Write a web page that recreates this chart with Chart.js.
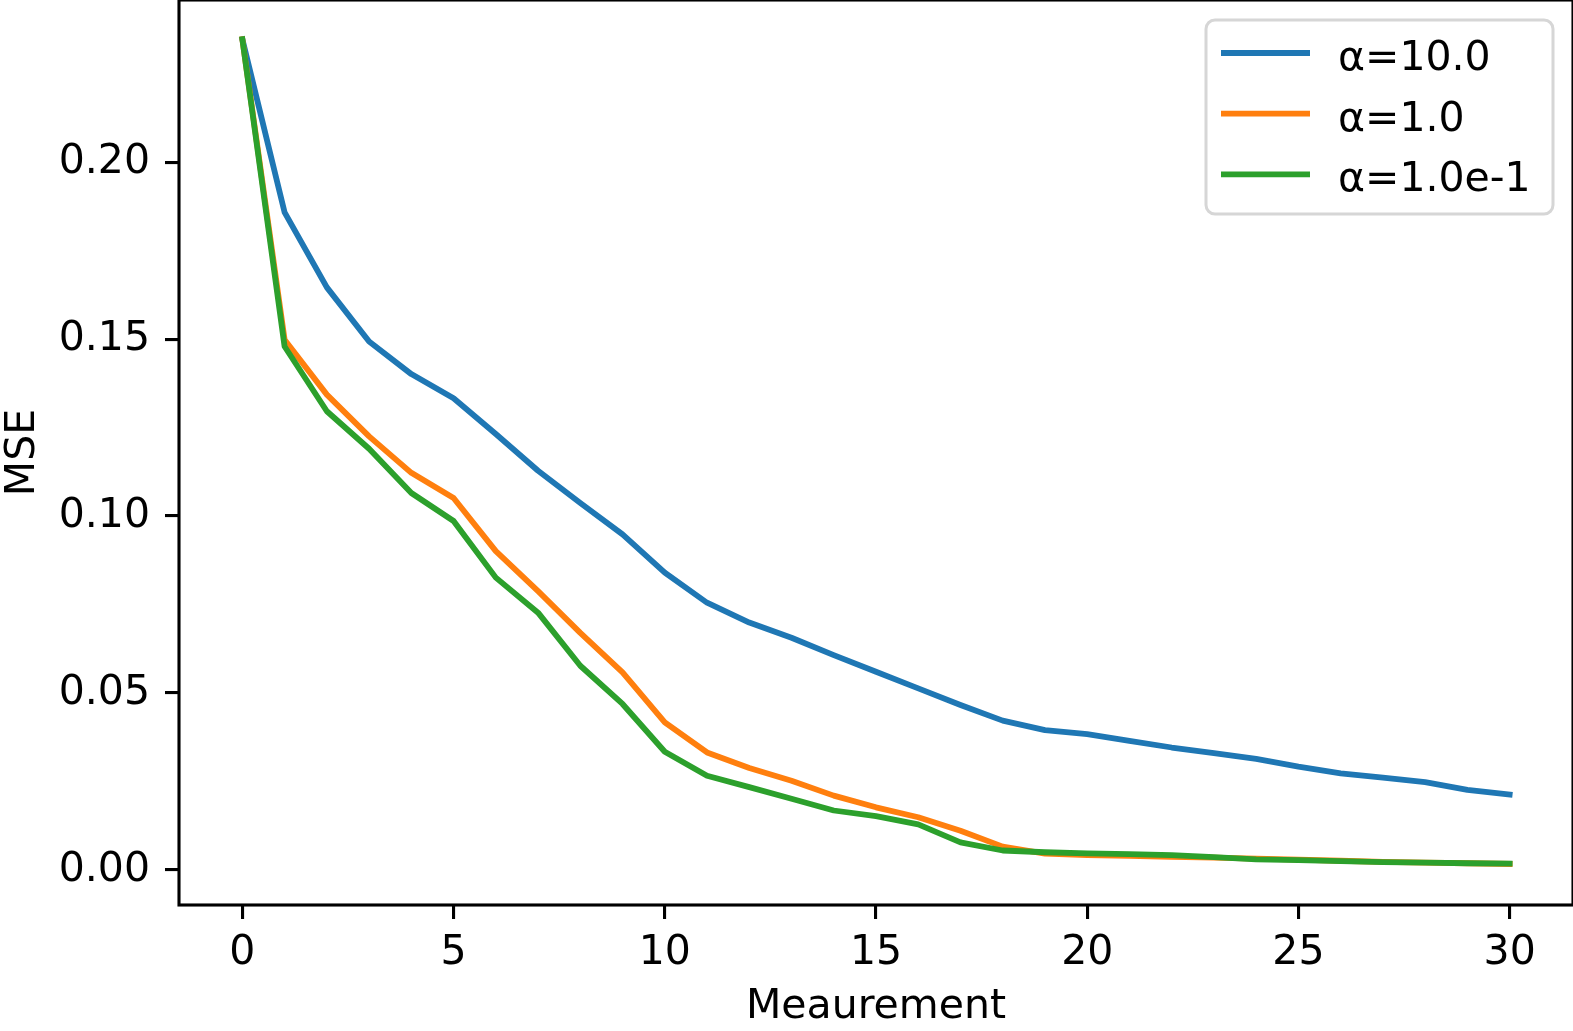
<!DOCTYPE html>
<html>
<head>
<meta charset="utf-8">
<title>MSE per measurement</title>
<script src="https://cdn.jsdelivr.net/npm/chart.js@4.4.1/dist/chart.umd.min.js"></script>
<style>
  html, body { margin: 0; padding: 0; background: #fff; }
  #wrap { width: 1573px; height: 1031px; }
  canvas { display: block; }
</style>
</head>
<body>
<div id="wrap"><canvas id="chart" width="1573" height="1031"></canvas></div>
<script>
/* ── Data ──────────────────────────────────────────────────────── */
const measurements = [0, 1, 2, 3, 4, 5, 6, 7, 8, 9, 10, 11, 12, 13, 14, 15,
                      16, 17, 18, 19, 20, 21, 22, 23, 24, 25, 26, 27, 28, 29, 30];

const mseAlpha10 = [0.2347, 0.1858, 0.1646, 0.1493, 0.1401, 0.1333, 0.1232, 0.1128,
                    0.1037, 0.0948, 0.0840, 0.0755, 0.0699, 0.0656, 0.0607, 0.0560,
                    0.0513, 0.0466, 0.0422, 0.0395, 0.0384, 0.0365, 0.0346, 0.0330,
                    0.0314, 0.0292, 0.0273, 0.0261, 0.0248, 0.0226, 0.0213];

const mseAlpha1 = [0.2347, 0.1498, 0.1343, 0.1225, 0.1122, 0.1051, 0.0901, 0.0788,
                   0.0670, 0.0558, 0.0417, 0.0332, 0.0288, 0.0252, 0.0210, 0.0177,
                   0.0149, 0.0111, 0.0066, 0.0046, 0.0042, 0.0040, 0.0037, 0.0035,
                   0.0032, 0.0029, 0.0026, 0.0023, 0.0021, 0.0019, 0.0017];

const mseAlpha01 = [0.2347, 0.1479, 0.1296, 0.1190, 0.1065, 0.0986, 0.0826, 0.0727,
                    0.0577, 0.0469, 0.0334, 0.0266, 0.0234, 0.0201, 0.0168, 0.0152,
                    0.0129, 0.0078, 0.0055, 0.0050, 0.0047, 0.0045, 0.0042, 0.0036,
                    0.0030, 0.0028, 0.0025, 0.0022, 0.0021, 0.0019, 0.0018];

const seriesLabels = ['α=10.0', 'α=1.0', 'α=1.0e-1'];
const seriesColors = ['#1f77b4', '#ff7f0e', '#2ca02c'];

const xTicks = [0, 5, 10, 15, 20, 25, 30];
const yTicks = [0.00, 0.05, 0.10, 0.15, 0.20];

const FONT = "'DejaVu Sans', sans-serif";
const FONT_SIZE = 41;

/* ── Helpers ───────────────────────────────────────────────────── */
function toPoints(ys) {
  return measurements.map((x, i) => ({ x: x, y: ys[i] }));
}

function lineDataset(i, ys) {
  return {
    label: seriesLabels[i],
    data: toPoints(ys),
    borderColor: seriesColors[i],
    backgroundColor: seriesColors[i],
    borderWidth: 5.8,
    borderCapStyle: 'square',
    borderJoinStyle: 'round',
    pointRadius: 0,
    tension: 0,
    fill: false,
    order: 2 - i,          // later series on top, like matplotlib
  };
}

/* matplotlib-like frame: all four spines, drawn over the lines */
const framePlugin = {
  id: 'frame',
  afterDatasetsDraw(chart) {
    const { ctx, chartArea: a } = chart;
    ctx.save();
    ctx.strokeStyle = '#000';
    ctx.lineWidth = 3.1;
    ctx.strokeRect(a.left, a.top, a.right - a.left, a.bottom - a.top);
    ctx.restore();
  },
};

/* matplotlib-like legend box in the upper right corner */
const legendBoxPlugin = {
  id: 'legendBox',
  afterDraw(chart) {
    const ctx = chart.ctx;
    const box = { x: 1206, y: 20, w: 347, h: 194, r: 9 };
    ctx.save();
    ctx.beginPath();
    ctx.roundRect(box.x, box.y, box.w, box.h, box.r);
    ctx.fillStyle = 'rgba(255,255,255,0.8)';
    ctx.fill();
    ctx.lineWidth = 3;
    ctx.strokeStyle = '#d6d6d6';
    ctx.stroke();

    ctx.font = FONT_SIZE + 'px ' + FONT;
    ctx.textAlign = 'left';
    ctx.textBaseline = 'alphabetic';
    chart.data.datasets.forEach((ds, i) => {
      const ly = 53 + i * 60.7;
      ctx.beginPath();
      ctx.moveTo(1221, ly);
      ctx.lineTo(1310, ly);
      ctx.lineWidth = 5.8;
      ctx.lineCap = 'butt';
      ctx.strokeStyle = ds.borderColor;
      ctx.stroke();
      ctx.fillStyle = '#000';
      ctx.fillText(ds.label, 1338, ly + 17);
    });
    ctx.restore();
  },
};

/* ── Chart ─────────────────────────────────────────────────────── */
const ctx = document.getElementById('chart').getContext('2d');

new Chart(ctx, {
  type: 'line',
  data: {
    datasets: [
      lineDataset(0, mseAlpha10),
      lineDataset(1, mseAlpha1),
      lineDataset(2, mseAlpha01),
    ],
  },
  options: {
    responsive: false,
    devicePixelRatio: 1,
    animation: false,
    layout: { padding: 0 },
    plugins: {
      legend: { display: false },
      tooltip: { enabled: false },
    },
    scales: {
      x: {
        type: 'linear',
        min: -1.5,
        max: 31.5,
        afterBuildTicks: (s) => { s.ticks = xTicks.map(v => ({ value: v })); },
        afterFit: (s) => { s.height = 126; s.paddingLeft = 0; s.paddingRight = 0; },
        border: { display: false },
        grid: {
          drawOnChartArea: false,
          drawTicks: true,
          tickLength: 14,
          tickColor: '#000',
          lineWidth: 3.1,
        },
        ticks: {
          color: '#000',
          padding: 10,
          maxRotation: 0,
          font: { family: FONT, size: FONT_SIZE },
          callback: (v) => String(v),
        },
        title: {
          display: true,
          text: 'Meaurement',
          color: '#000',
          padding: { top: 0, bottom: 3 },
          font: { family: FONT, size: FONT_SIZE, lineHeight: 1 },
        },
      },
      y: {
        type: 'linear',
        min: -0.0099,
        max: 0.2458,
        afterBuildTicks: (s) => { s.ticks = yTicks.map(v => ({ value: v })); },
        afterFit: (s) => { s.width = 179; s.paddingTop = 0; s.paddingBottom = 0; },
        border: { display: false },
        grid: {
          drawOnChartArea: false,
          drawTicks: true,
          tickLength: 14,
          tickColor: '#000',
          lineWidth: 3.1,
        },
        ticks: {
          color: '#000',
          padding: 15,
          font: { family: FONT, size: FONT_SIZE },
          callback: (v) => Number(v).toFixed(2),
        },
        title: {
          display: true,
          text: 'MSE',
          color: '#000',
          padding: { top: 3, bottom: 0 },
          font: { family: FONT, size: FONT_SIZE, lineHeight: 1 },
        },
      },
    },
  },
  plugins: [framePlugin, legendBoxPlugin],
});
</script>
</body>
</html>
